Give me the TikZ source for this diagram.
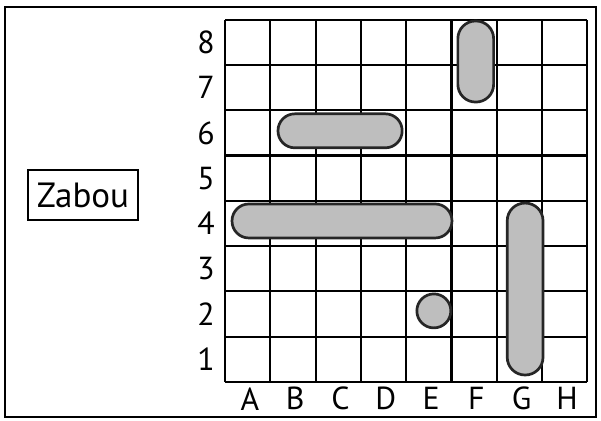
\documentclass[tikz,border=0pt]{standalone}
\usepackage{fontspec}
\setmainfont{PT Sans}
\usepackage{xcolor}
\usepackage{tikz}
\usetikzlibrary{positioning, calc}
\definecolor{shipgray}{RGB}{190, 190, 190}
\tikzset{
    gridline/.style={line width=1.3pt, black},
    frameline/.style={line width=1pt, black},
    ship/.style={line width=1.7pt, draw=black!85, fill=shipgray},
    coordlabel/.style={font=\fontsize{20}{24}\selectfont, inner sep=0pt},
    namebox/.style={draw, line width=1pt, minimum width=2.43cm, minimum height=1.1cm, font=\fontsize{22}{26}\selectfont}
}

\begin{document}
\begin{tikzpicture}
    \useasboundingbox (-4.967,-0.839) rectangle (8.300,8.433);
    \draw [frameline] (-4.857,-0.773) rectangle (8.190,8.278);

    % board
    \draw [gridline] (0,0) grid (8,8);
    \foreach \row in {1,...,8}
        \node (row\row) [coordlabel] at (-0.42,\row-0.5) {\row};
    \foreach \col [count=\i] in {A,B,C,D,E,F,G,H}
        \node (col\col) [coordlabel] at (\i-0.45,-0.37) {\col};

    \node (player) [namebox] at (-3.135,4.128) {Zabou};

    % ships
    \draw [ship, rounded corners=0.39cm] (5.14,6.18) rectangle (5.93,7.97);
    \draw [ship, rounded corners=0.37cm] (1.17,5.17) rectangle (3.91,5.92);
    \draw [ship, rounded corners=0.37cm] (0.155,3.18) rectangle (5.01,3.93);
    \draw [ship] (4.61,1.57) circle (0.375);
    \draw [ship, rounded corners=0.39cm] (6.23,0.155) rectangle (7.02,3.95);
\end{tikzpicture}
\end{document}
